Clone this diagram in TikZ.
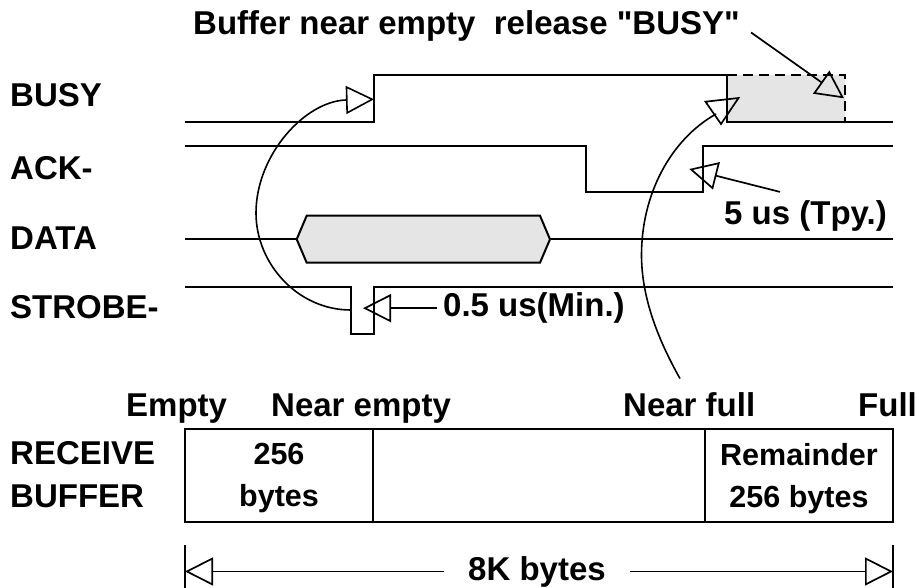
\documentclass[tikz,border=0pt]{standalone}
\usepackage{fontspec}
\setmainfont{Liberation Sans}[Ligatures=TeXOff]
\usetikzlibrary{arrows.meta}

\begin{document}
\begin{tikzpicture}[x=1pt, y=-1pt, line join=miter,
  lbl/.style={font=\fontsize{33}{43}\selectfont\bfseries, inner sep=0pt},
  cell/.style={font=\fontsize{30.5}{42}\selectfont\bfseries, inner sep=0pt, align=center},
  sig/.style={line width=2pt},
  tri/.style={line width=1.7pt, -{Triangle[open, length=28pt, width=28pt]}}]
  \useasboundingbox (0,0) rectangle (919,588);

  % Title
  \node[lbl, anchor=base west] (title) at (193,35) {Buffer near empty\ \ release "BUSY"};

  % Signal names
  \node[lbl, anchor=base west] (busy) at (10,106.7) {BUSY};
  \node[lbl, anchor=base west] (ack) at (10,180) {ACK-};
  \node[lbl, anchor=base west] (data) at (10,250) {DATA};
  \node[lbl, anchor=base west] (strobe) at (10,318.3) {STROBE-};

  % BUSY (released part shaded)
  \fill[black!10] (727,75) rectangle (845,121.7);
  \draw[sig, dash pattern=on 10pt off 6pt] (727,75) -- (845,75) -- (845,121.7);
  \draw[sig] (185,121.7) -- (374,121.7) -- (374,75) -- (727,75) -- (727,121.7) -- (893,121.7);

  % ACK-
  \draw[sig] (185,145.7) -- (586,145.7) -- (586,192.3) -- (703.3,192.3) -- (703.3,145.7) -- (893,145.7);

  % DATA
  \draw[sig] (185,239.3) -- (296.7,239.3);
  \draw[sig, fill=black!10] (296.7,239.3) -- (306.7,215.7) -- (540,215.7) -- (550,239.3)
    -- (540,262.7) -- (306.7,262.7) -- cycle;
  \draw[sig] (550,239.3) -- (893,239.3);

  % STROBE-
  \draw[sig] (185,286.7) -- (350.7,286.7) -- (350.7,334) -- (374,334) -- (374,286.7) -- (893,286.7);

  % Timing notes
  \node[lbl, anchor=base west] (tpy) at (724,225) {5 us (Tpy.)};
  \node[lbl, anchor=base west] (mn) at (443,316.7) {0.5 us(Min.)};
  \coordinate (acktip) at (689.3,169);
  \coordinate (stbtip) at (363,310);
  \coordinate (reltip) at (844,98.3);
  \draw[tri] ([shift={(56,-9)}]tpy.north west) -- (acktip);
  \draw[tri] ([xshift=-6pt]mn.west) -- (mn.west -| stbtip);
  \draw[tri] ([shift={(11,6)}]title.east) -- (reltip);

  % STROBE- -> BUSY
  \coordinate (stbfall) at (350.7,310);
  \coordinate (busyrise) at (374,99.3);
  \draw[tri, line width=1.6pt] (stbfall) .. controls (298,310) and (256,264) .. (256,213)
    .. controls (256,155) and (305,101) .. (busyrise);

  % Buffer levels
  \node[lbl, anchor=base west] (empty) at (126,416.7) {Empty};
  \node[lbl, anchor=base west] (nearempty) at (271,416.7) {Near empty};
  \node[lbl, anchor=base west] (nearfull) at (623,416.7) {Near full};
  \node[lbl, anchor=base west] (full) at (858,416.7) {Full};

  % Near full -> BUSY
  \draw[line width=1.6pt] ([shift={(57,-14)}]nearfull.north west) .. controls (660,343) and (641.5,300) .. (641.5,255)
    .. controls (641.5,195) and (670,140) .. (716,114);
  \draw[line width=1.7pt] (705.5,101.7) -- (738.5,98) -- (721,124) -- cycle;

  % Receive buffer
  \node[lbl, anchor=west, align=left] (recv) at (10,475) {RECEIVE\\BUFFER};
  \draw[sig] (185,429.3) rectangle (893,522);
  \draw[sig] (373.3,429.3) -- (373.3,522);
  \draw[sig] (705,429.3) -- (705,522);
  \node[cell] (low) at (279,478.3) {256\\bytes};
  \node[cell] (high) at (799,478.3) {Remainder\\256 bytes};

  % Overall size
  \draw[sig] (185,545) -- (185,588);
  \draw[sig] (893,545) -- (893,588);
  \coordinate (dl) at (185,570);
  \coordinate (dr) at (893,570);
  \node[lbl, anchor=base, inner xsep=24pt] (kb) at (537,580) {8K bytes};
  \draw[tri] (kb.west) -- (kb.west -| dl);
  \draw[tri] (kb.east) -- (kb.east -| dr);

\end{tikzpicture}
\end{document}
